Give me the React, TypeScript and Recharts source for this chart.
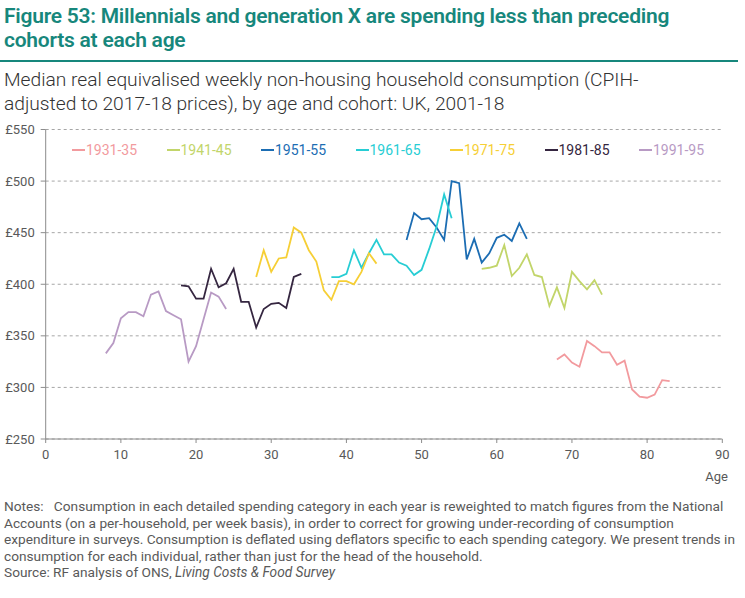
import React from 'react';
import { LineChart, Line, XAxis, YAxis, CartesianGrid } from 'recharts';

// cohort names and colours, in legend order
const cohorts = ['1931-35', '1941-45', '1951-55', '1961-65', '1971-75', '1981-85', '1991-95'];
const colors = ['#f29a9e', '#c2d56a', '#1c6db3', '#27cdd4', '#f6cf36', '#352640', '#b89ac4'];

// ages observed for each cohort (2001-02 to 2017-18)
const ages1931 = [68, 69, 70, 71, 72, 73, 74, 75, 76, 77, 78, 79, 80, 81, 82, 83];
const ages1941 = [58, 59, 60, 61, 62, 63, 64, 65, 66, 67, 68, 69, 70, 71, 72, 73, 74];
const ages1951 = [48, 49, 50, 51, 52, 53, 54, 55, 56, 57, 58, 59, 60, 61, 62, 63, 64];
const ages1961 = [38, 39, 40, 41, 42, 43, 44, 45, 46, 47, 48, 49, 50, 51, 52, 53, 54];
const ages1971 = [28, 29, 30, 31, 32, 33, 34, 35, 36, 37, 38, 39, 40, 41, 42, 43, 44];
const ages1981 = [18, 19, 20, 21, 22, 23, 24, 25, 26, 27, 28, 29, 30, 31, 32, 33, 34];
const ages1991 = [8, 9, 10, 11, 12, 13, 14, 15, 16, 17, 18, 19, 20, 21, 22, 23, 24];

// median weekly consumption, £
const spend1931 = [327, 332, 324, 320, 345, 340, 334, 334, 322, 326, 298, 291, 290, 293, 307, 306];
const spend1941 = [415, 416, 418, 438, 408, 416, 429, 409, 407, 379, 397, 377, 412, 403, 395, 404, 390];
const spend1951 = [443, 469, 463, 464, 455, 443, 500, 498, 424, 444, 421, 430, 445, 448, 442, 459, 444];
const spend1961 = [407, 407, 410, 433, 416, 430, 443, 429, 429, 421, 418, 409, 414, 434, 456, 487, 464];
const spend1971 = [407, 433, 412, 425, 426, 455, 450, 433, 422, 394, 385, 403, 403, 400, 412, 430, 420];
const spend1981 = [399, 398, 386, 386, 415, 397, 401, 415, 383, 383, 358, 376, 381, 382, 377, 407, 410];
const spend1991 = [333, 343, 367, 373, 373, 369, 390, 393, 374, 370, 366, 325, 340, 366, 392, 388, 376];

const xTicks = [0, 10, 20, 30, 40, 50, 60, 70, 80, 90];
const yTicks = [250, 300, 350, 400, 450, 500, 550];

const toRows = (ages: number[], vals: number[]) => ages.map((age, i) => ({ age, value: vals[i] }));

const series = [
  toRows(ages1931, spend1931),
  toRows(ages1941, spend1941),
  toRows(ages1951, spend1951),
  toRows(ages1961, spend1961),
  toRows(ages1971, spend1971),
  toRows(ages1981, spend1981),
  toRows(ages1991, spend1991),
];

const teal = '#17877c';
const grey = '#595959';
const font = 'Roboto, "Noto Sans", sans-serif';

export default function App() {
  return (
    <div style={{ position: 'absolute', left: 0, top: 0, width: 745, height: 598, background: '#fff', fontFamily: font }}>
      <div style={{ position: 'absolute', left: 4, top: 4, color: teal, fontSize: 21, fontWeight: 600, lineHeight: '24px', letterSpacing: -0.25, whiteSpace: 'nowrap' }}>
        Figure 53: Millennials and generation X are spending less than preceding
        <br />
        cohorts at each age
      </div>
      <div style={{ position: 'absolute', left: 0, top: 60, width: 738, height: 2, background: teal }} />
      <div style={{ position: 'absolute', left: 4, top: 68, color: '#333', fontSize: 19.2, fontWeight: 300, lineHeight: '24px', whiteSpace: 'nowrap' }}>
        Median real equivalised weekly non-housing household consumption (CPIH-
        <br />
        adjusted to 2017-18 prices), by age and cohort: UK, 2001-18
      </div>

      <div style={{ position: 'absolute', left: 0, top: 0 }}>
        <LineChart width={745} height={490} margin={{ top: 129.5, right: 22.7, left: 0, bottom: 21 }}>
          <CartesianGrid vertical={false} strokeDasharray="3 3" stroke="#a6a6a6" />
          <XAxis
            type="number"
            dataKey="age"
            domain={[0, 90]}
            ticks={xTicks}
            allowDuplicatedCategory={false}
            height={30}
            stroke="#8c8c8c"
            tickSize={4}
            tickMargin={7}
            tick={{ fontSize: 13, fill: grey, fontFamily: font }}
          />
          <YAxis
            type="number"
            domain={[250, 550]}
            ticks={yTicks}
            width={45.7}
            stroke="#8c8c8c"
            tickSize={5}
            tickMargin={6}
            tickFormatter={(v) => `£${v}`}
            tick={{ fontSize: 13, fill: grey, fontFamily: font }}
          />
          {series.map((rows, i) => (
            <Line
              key={cohorts[i]}
              data={rows}
              dataKey="value"
              name={cohorts[i]}
              type="linear"
              stroke={colors[i]}
              strokeWidth={1.8}
              dot={false}
              activeDot={false}
              isAnimationActive={false}
            />
          ))}
        </LineChart>
      </div>

      {/* legend sits inside the plot */}
      <div style={{ position: 'absolute', left: 72, top: 141, display: 'flex', fontSize: 14, lineHeight: '18px' }}>
        {cohorts.map((c, i) => (
          <div key={c} style={{ width: 94.5, display: 'flex', alignItems: 'center', color: colors[i] }}>
            <span style={{ display: 'inline-block', width: 13, height: 2, background: colors[i], marginRight: 1 }} />
            {c}
          </div>
        ))}
      </div>

      <div style={{ position: 'absolute', right: 17, top: 469, fontSize: 13, color: grey }}>Age</div>

      <div style={{ position: 'absolute', left: 4, top: 498, fontSize: 13.7, lineHeight: '16.6px', color: grey, whiteSpace: 'nowrap' }}>
        Notes:&nbsp;&nbsp; Consumption in each detailed spending category in each year is reweighted to match figures from the National
        <br />
        Accounts (on a per-household, per week basis), in order to correct for growing under-recording of consumption
        <br />
        expenditure in surveys. Consumption is deflated using deflators specific to each spending category. We present trends in
        <br />
        consumption for each individual, rather than just for the head of the household.
        <br />
        Source: RF analysis of ONS, <i>Living Costs &amp; Food Survey</i>
      </div>
    </div>
  );
}
